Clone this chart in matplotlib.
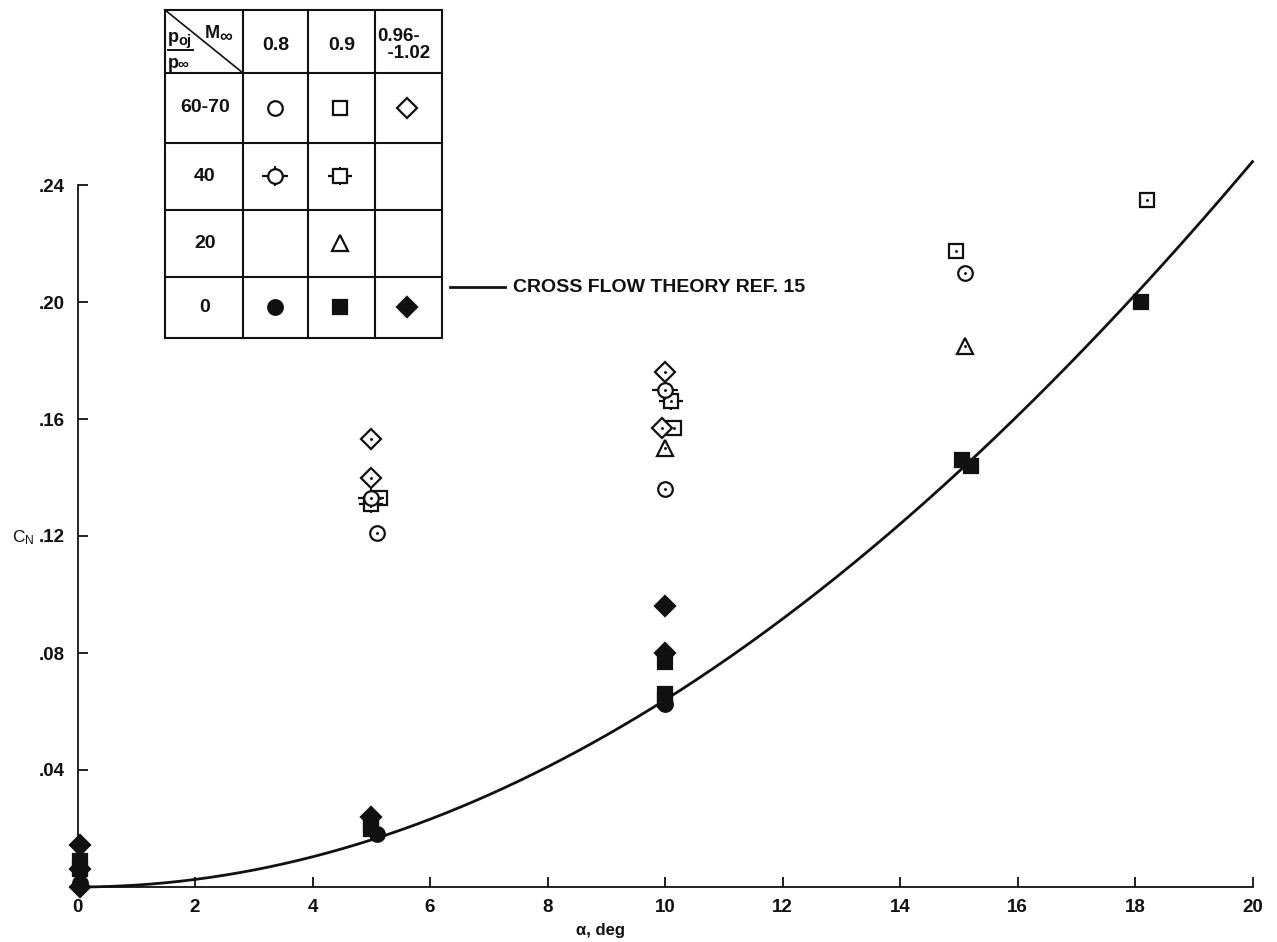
import numpy as np
import matplotlib
matplotlib.use("Agg")
import matplotlib.pyplot as plt
from matplotlib.lines import Line2D

plt.rcParams["font.family"] = ["Liberation Sans", "DejaVu Sans"]
plt.rcParams["mathtext.default"] = "regular"

INK = "#111111"
W, H = 1277, 942

# Cross-flow theory: CN = K * sin^2(alpha)
K_CROSSFLOW = 2.12
ALPHA_MAX = 20.0

# Measured normal-force coefficients, grouped by plotting symbol
circle_open_alpha = [5.1, 10.0, 15.1]
circle_open_cn = [0.121, 0.136, 0.210]
circle_flag_alpha = [5.0, 10.0]
circle_flag_cn = [0.133, 0.170]
square_open_alpha = [5.15, 10.15, 14.95, 18.2]
square_open_cn = [0.133, 0.157, 0.2175, 0.235]
square_flag_alpha = [5.0, 10.1]
square_flag_cn = [0.131, 0.166]
triangle_open_alpha = [10.0, 15.1]
triangle_open_cn = [0.150, 0.185]
diamond_open_alpha = [5.0, 5.0, 10.0, 9.95]
diamond_open_cn = [0.153, 0.140, 0.176, 0.157]
circle_fill_alpha = [0.05, 5.1, 10.0]
circle_fill_cn = [0.0015, 0.018, 0.0625]
square_fill_alpha = [0.05, 0.05, 5.0, 5.0, 10.0, 10.0, 10.0, 15.05, 15.2, 18.1]
square_fill_cn = [0.009, 0.006, 0.022, 0.020, 0.077, 0.066, 0.064, 0.146, 0.144, 0.200]
diamond_fill_alpha = [0.05, 0.05, 0.05, 5.0, 10.0, 10.0]
diamond_fill_cn = [0.0145, 0.006, 0.0, 0.024, 0.096, 0.080]

# Key table contents
mach_labels = ["0.8", "0.9", "0.96-\n  -1.02"]
pressure_labels = ["60-70", "40", "20", "0"]
x_ticks = [0, 2, 4, 6, 8, 10, 12, 14, 16, 18, 20]
y_ticks = [0.04, 0.08, 0.12, 0.16, 0.20, 0.24]
y_tick_labels = [".04", ".08", ".12", ".16", ".20", ".24"]

SHAPES = {
    "circle": ("o", 10.5),
    "square": ("s", 9.5),
    "triangle": ("^", 12.0),
    "diamond": ("D", 10.5),
}


def symbols(ax, xs, ys, shape, filled=False, flagged=False, dot=True, z=5):
    marker, ms = SHAPES[shape]
    common = dict(linestyle="none", clip_on=False, zorder=z)
    if flagged:
        ax.plot(xs, ys, marker="_", ms=ms * 1.75, mew=1.6, color=INK, **common)
        ax.plot(xs, ys, marker="|", ms=ms * 1.4, mew=1.4, color=INK, **common)
    ax.plot(xs, ys, marker=marker, ms=ms, mew=1.6,
            mfc=INK if filled else "white", mec=INK, **common)
    if dot and not filled:
        ax.plot(xs, ys, marker=".", ms=2.2, color=INK, **common)


fig = plt.figure(figsize=(W / 100, H / 100), dpi=100)
fig.patch.set_facecolor("white")

# Main axes, placed by pixel bounds
x0, x1, y0, y1 = 77.5, 1252.5, 887, 185
ax = fig.add_axes([x0 / W, 1 - y0 / H, (x1 - x0) / W, (y0 - y1) / H])
ax.set_xlim(0, ALPHA_MAX)
ax.set_ylim(0, 0.24)
for side in ("top", "right"):
    ax.spines[side].set_visible(False)
for side in ("left", "bottom"):
    ax.spines[side].set_linewidth(1.3)
    ax.spines[side].set_color(INK)

ax.set_xticks(x_ticks)
ax.set_xticklabels([str(t) for t in x_ticks])
ax.set_yticks(y_ticks)
ax.set_yticklabels(y_tick_labels)
ax.tick_params(direction="in", length=7, width=1.3, colors=INK,
               labelsize=13.5)
ax.tick_params(axis="x", pad=9)
ax.tick_params(axis="y", pad=9)
for lab in ax.get_xticklabels() + ax.get_yticklabels():
    lab.set_fontweight("bold")

# Theory curve
alpha = np.linspace(0, ALPHA_MAX, 400)
cn_theory = K_CROSSFLOW * np.sin(np.radians(alpha)) ** 2
ax.plot(alpha, cn_theory, color=INK, lw=2.0, clip_on=False, zorder=3)

# Data symbols
symbols(ax, circle_open_alpha, circle_open_cn, "circle")
symbols(ax, square_open_alpha, square_open_cn, "square")
symbols(ax, triangle_open_alpha, triangle_open_cn, "triangle")
symbols(ax, diamond_open_alpha, diamond_open_cn, "diamond")
symbols(ax, square_flag_alpha, square_flag_cn, "square", flagged=True, z=6)
symbols(ax, circle_flag_alpha, circle_flag_cn, "circle", flagged=True, z=7)
symbols(ax, diamond_fill_alpha, diamond_fill_cn, "diamond", filled=True)
symbols(ax, square_fill_alpha, square_fill_cn, "square", filled=True)
symbols(ax, circle_fill_alpha, circle_fill_cn, "circle", filled=True)

# Axis titles
fig.text(600 / W, 1 - 931 / H, "α, deg", ha="center", va="center",
         fontsize=12, fontweight="bold", color=INK)
fig.text(12 / W, 1 - 538 / H, r"$C_N$", ha="left", va="center",
         fontsize=12.5, color=INK)

# Key table, in its own pixel-based axes
tx0, tx1, ty0, ty1 = 165, 442, 10, 338
tab = fig.add_axes([tx0 / W, 1 - ty1 / H, (tx1 - tx0) / W, (ty1 - ty0) / H])
tab.set_xlim(tx0, tx1)
tab.set_ylim(ty1, ty0)
tab.axis("off")
tab.add_patch(plt.Rectangle((tx0, ty0), tx1 - tx0, ty1 - ty0,
                            facecolor="white", edgecolor="none", zorder=0))
col_edges = [165, 243, 308, 375, 442]
row_edges = [10, 73, 143, 210, 277, 338]
for cx in col_edges:
    tab.plot([cx, cx], [ty0, ty1], color=INK, lw=1.5, clip_on=False)
for ry in row_edges:
    tab.plot([tx0, tx1], [ry, ry], color=INK, lw=1.5, clip_on=False)
tab.plot([165, 243], [10, 73], color=INK, lw=1.2)

bold = dict(fontweight="bold", color=INK)
tab.text(205, 34, "M", fontsize=13, ha="left", va="center", **bold)
tab.text(219, 37, "∞", fontsize=13, ha="left", va="center", **bold)
tab.text(168, 38, "p", fontsize=13, ha="left", va="center", **bold)
tab.text(178, 41, "oj", fontsize=10.5, ha="left", va="center", **bold)
tab.plot([168, 193], [50, 50], color=INK, lw=1.4)
tab.text(168, 63, "p", fontsize=13, ha="left", va="center", **bold)
tab.text(178, 65, "∞", fontsize=11, ha="left", va="center", **bold)

col_centers = [(a + b) / 2 for a, b in zip(col_edges[1:-1], col_edges[2:])]
tab.text(col_centers[0], 46, mach_labels[0], fontsize=14, ha="center",
         va="center", **bold)
tab.text(col_centers[1], 46, mach_labels[1], fontsize=14, ha="center",
         va="center", **bold)
tab.text(377, 45, mach_labels[2], fontsize=13.5, ha="left", va="center",
         linespacing=1.05, **bold)

row_centers = [(a + b) / 2 for a, b in zip(row_edges[1:-1], row_edges[2:])]
for lab, ry in zip(pressure_labels, row_centers):
    tab.text(205, ry, lab, fontsize=14, ha="center", va="center", **bold)

key_cols = [275, 340, 407]
symbols(tab, [key_cols[0]], [row_centers[0]], "circle", dot=False)
symbols(tab, [key_cols[1]], [row_centers[0]], "square", dot=False)
symbols(tab, [key_cols[2]], [row_centers[0]], "diamond", dot=False)
symbols(tab, [key_cols[0]], [row_centers[1]], "circle", flagged=True, dot=False)
symbols(tab, [key_cols[1]], [row_centers[1]], "square", flagged=True, dot=False)
symbols(tab, [key_cols[1]], [row_centers[2]], "triangle", dot=False)
symbols(tab, [key_cols[0]], [row_centers[3]], "circle", filled=True)
symbols(tab, [key_cols[1]], [row_centers[3]], "square", filled=True)
symbols(tab, [key_cols[2]], [row_centers[3]], "diamond", filled=True)

# Theory curve key
fig.add_artist(Line2D([450 / W, 505 / W], [1 - 287 / H, 1 - 287 / H],
                      transform=fig.transFigure, color=INK, lw=2.0))
fig.text(513 / W, 1 - 287 / H, "CROSS FLOW THEORY REF. 15", ha="left",
         va="center", fontsize=14, **bold)

fig.savefig("out.png", dpi=100, facecolor="white")
